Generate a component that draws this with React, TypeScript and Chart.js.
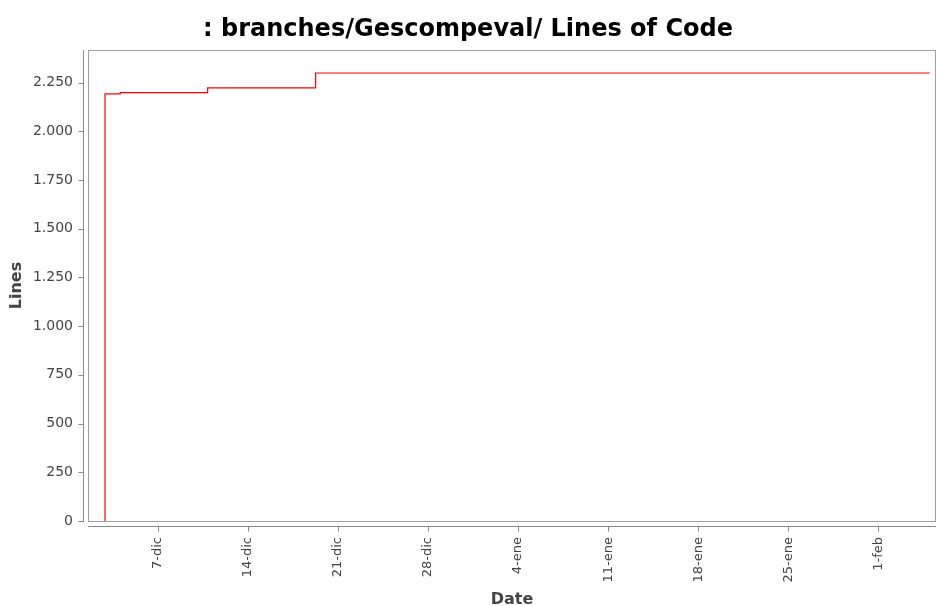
import React, { useEffect, useRef } from "react";
import { Chart, registerables } from "chart.js";

Chart.register(...registerables);

// Commit timestamps (UTC) and lines of code at each
const commitTimes = [
  "2009-12-02T21:00:00Z",
  "2009-12-02T21:10:00Z",
  "2009-12-04T01:40:00Z",
  "2009-12-10T20:40:00Z",
  "2009-12-19T06:15:00Z",
  "2010-02-05T00:00:00Z",
];
const linesOfCode = [0, 2192, 2198, 2223, 2299, 2299];

// X axis tick dates and their labels
const tickDates = [
  "2009-12-07", "2009-12-14", "2009-12-21", "2009-12-28",
  "2010-01-04", "2010-01-11", "2010-01-18", "2010-01-25", "2010-02-01",
];
const tickLabels = ["7-dic", "14-dic", "21-dic", "28-dic", "4-ene", "11-ene", "18-ene", "25-ene", "1-feb"];

const yTicks = [0, 250, 500, 750, 1000, 1250, 1500, 1750, 2000, 2250];
const xRange = ["2009-12-01T13:26:00Z", "2010-02-05T11:45:00Z"];
const yMax = 2417;

const ORIGIN = Date.UTC(2009, 11, 1);
const toDay = (s: string) => (new Date(s.length === 10 ? s + "T00:00:00Z" : s).getTime() - ORIGIN) / 86400000;

const fmt = (v: number) => {
  const s = String(Math.round(v));
  return s.replace(/\B(?=(\d{3})+(?!\d))/g, ".");
};

const axisPlugin = {
  id: "jfreeAxes",
  afterDraw(chart: any) {
    const { ctx, chartArea } = chart;
    const { left, right, top, bottom } = chartArea;
    ctx.save();
    ctx.lineWidth = 1;
    // plot border
    ctx.strokeStyle = "#a0a0a0";
    ctx.strokeRect(left + 0.5, top + 0.5, right - left - 1, bottom - top);
    // axis lines
    ctx.strokeStyle = "#888888";
    ctx.beginPath();
    const ax = left - 5 + 0.5;
    ctx.moveTo(ax, top);
    ctx.lineTo(ax, bottom + 1);
    const ay = bottom + 5 + 0.5;
    ctx.moveTo(left, ay);
    ctx.lineTo(right, ay);
    const ys = chart.scales.y;
    yTicks.forEach((v) => {
      const py = Math.round(ys.getPixelForValue(v)) + 0.5;
      ctx.moveTo(ax - 5, py);
      ctx.lineTo(ax, py);
    });
    const xs = chart.scales.x;
    tickDates.forEach((d) => {
      const px = Math.round(xs.getPixelForValue(toDay(d))) + 0.5;
      ctx.moveTo(px, ay);
      ctx.lineTo(px, ay + 5);
    });
    ctx.stroke();
    ctx.restore();
  },
};

export default function App() {
  const ref = useRef<HTMLCanvasElement | null>(null);
  useEffect(() => {
    if (!ref.current) return;
    const data = commitTimes.map((t, i) => ({ x: toDay(t), y: linesOfCode[i] }));
    const tickVals = tickDates.map(toDay);
    const chart = new Chart(ref.current, {
      type: "line",
      data: {
        datasets: [
          {
            data,
            borderColor: "#ff0000",
            borderWidth: 1.2,
            pointRadius: 0,
            stepped: "before",
            fill: false,
          },
        ],
      },
      plugins: [axisPlugin],
      options: {
        animation: false,
        responsive: false,
        devicePixelRatio: 1,
        layout: { padding: { left: 0, right: 1, top: 0, bottom: 0 } },
        plugins: {
          legend: { display: false },
          tooltip: { enabled: false },
          title: {
            display: true,
            text: ": branches/Gescompeval/ Lines of Code",
            color: "#000000",
            font: { family: "'DejaVu Sans'", size: 24, weight: "bold", lineHeight: 1.2 },
            padding: { top: 15, bottom: 6.2 },
          },
        },
        scales: {
          x: {
            type: "linear",
            min: toDay(xRange[0]),
            max: toDay(xRange[1]),
            grid: { display: false },
            border: { display: false },
            afterBuildTicks: (s: any) => {
              s.ticks = tickVals.map((v) => ({ value: v }));
            },
            afterFit: (s: any) => {
              s.height = 85;
            },
            ticks: {
              autoSkip: false,
              minRotation: 90,
              maxRotation: 90,
              padding: 8,
              color: "#444444",
              font: { family: "'DejaVu Sans'", size: 13 },
              callback: (v: any) => {
                const i = tickVals.findIndex((t) => Math.abs(t - v) < 1e-6);
                return i >= 0 ? tickLabels[i] : "";
              },
            },
            title: {
              display: true,
              text: "Date",
              color: "#444444",
              font: { family: "'DejaVu Sans'", size: 16, weight: "bold", lineHeight: 1 },
              padding: { top: -2, bottom: -2 },
            },
          },
          y: {
            type: "linear",
            min: 0,
            max: yMax,
            grid: { display: false },
            border: { display: false },
            afterBuildTicks: (s: any) => {
              s.ticks = yTicks.map((v) => ({ value: v }));
            },
            afterFit: (s: any) => {
              s.width = 88;
            },
            ticks: {
              padding: 7,
              color: "#444444",
              font: { family: "'DejaVu Sans'", size: 14 },
              callback: (v: any) => fmt(Number(v)),
            },
            title: {
              display: true,
              text: "Lines",
              color: "#444444",
              font: { family: "'DejaVu Sans'", size: 16, weight: "bold", lineHeight: 1 },
              padding: { top: 9, bottom: 0 },
            },
          },
        },
      },
    } as any);
    return () => chart.destroy();
  }, []);
  return (
    <div style={{ position: "absolute", left: 0, top: 0, width: 937, height: 606, background: "#ffffff" }}>
      <canvas ref={ref} width={937} height={606} />
    </div>
  );
}
